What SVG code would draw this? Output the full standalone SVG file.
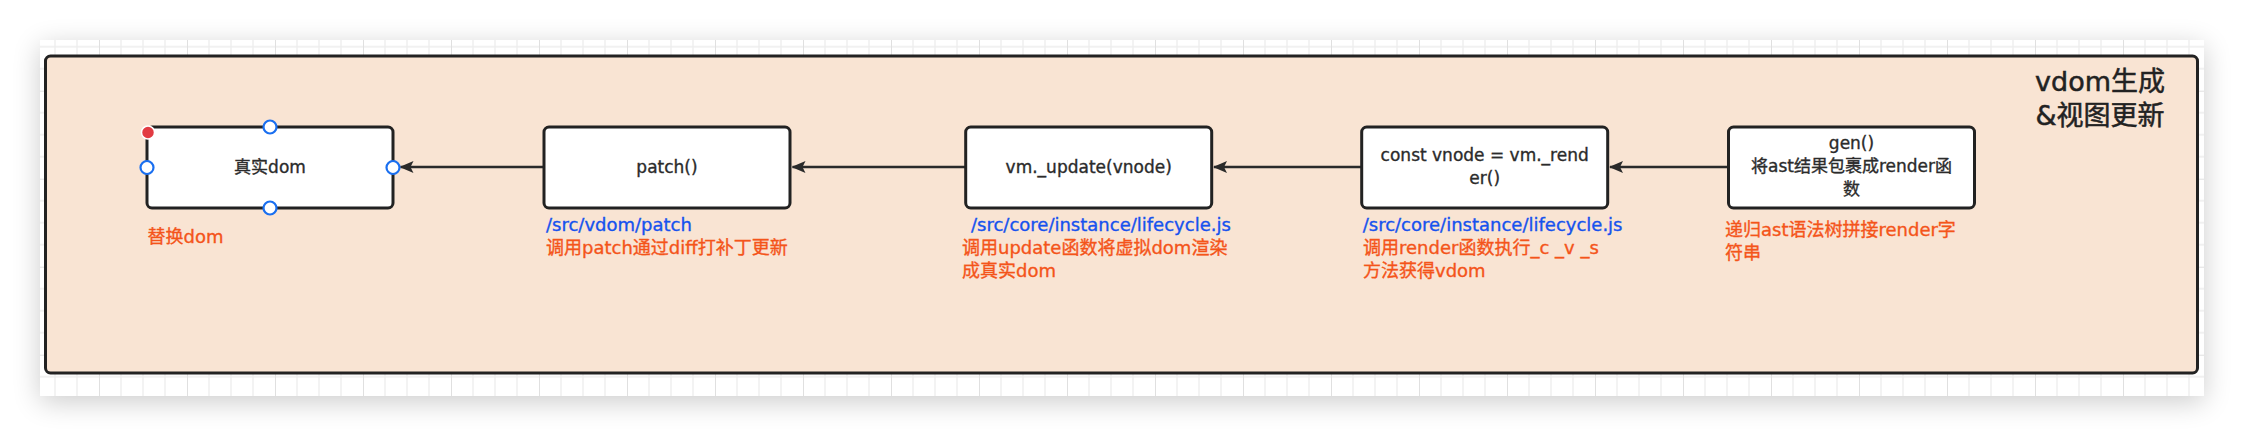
<svg xmlns="http://www.w3.org/2000/svg" width="2244" height="436" viewBox="0 0 2244 436">
  <defs>
    <style>
      .txt { font-family: "DejaVu Sans", "Noto Sans CJK SC", sans-serif; stroke-width: 0.35; }
      .node-box { fill: #ffffff; stroke: #222222; stroke-width: 3; }
      .node-label { font-size: 17px; fill: #2b2b2b; stroke: #2b2b2b; text-anchor: middle; }
      .path-note { font-size: 18px; fill: #1652ee; stroke: #1652ee; }
      .desc-note { font-size: 18px; fill: #f4541a; stroke: #f4541a; }
      .title { font-size: 27px; fill: #222222; stroke: #222222; stroke-width: 0.5; text-anchor: middle; }
      .edge { fill: none; stroke: #2a2a2a; stroke-width: 2.4; }
      .port { fill: #ffffff; stroke: #1a6ff0; stroke-width: 2.2; }
    </style>
    <filter id="shadow" x="-10%" y="-40%" width="120%" height="180%">
      <feGaussianBlur stdDeviation="14"/>
    </filter>
    <pattern id="grid" patternUnits="userSpaceOnUse" x="11" y="2.7" width="88" height="88">
      <rect width="88" height="88" fill="#ffffff"/>
      <path d="M22,0 V88 M44,0 V88 M66,0 V88 M0,22 H88 M0,44 H88 M0,66 H88" stroke="#ededed" stroke-width="1.3"/>
      <path d="M0,0 V88 M0,0 H88" stroke="#e0e0e0" stroke-width="2"/>
    </pattern>
    <marker id="arrow" viewBox="0 0 14 12" refX="13" refY="6" markerWidth="14" markerHeight="12" markerUnits="userSpaceOnUse" orient="auto">
      <path d="M0,0 L14,6 L0,12 L3,6 z" fill="#2a2a2a"/>
    </marker>
  </defs>

  <rect width="2244" height="436" fill="#ffffff"/>
  <rect x="40" y="46" width="2164" height="356" fill="#000000" opacity="0.2" filter="url(#shadow)"/>
  <rect x="40" y="40" width="2164" height="356" fill="url(#grid)"/>

  <g id="container">
    <rect x="45.5" y="56" width="2152" height="317" rx="5" fill="#f9e4d3" stroke="#222222" stroke-width="3"/>
    <text class="txt title" x="2100" y="91">vdom生成</text>
    <text class="txt title" x="2100" y="125">&amp;视图更新</text>
  </g>

  <g id="connectors">
    <path class="edge" d="M1728.5,167 H1610" marker-end="url(#arrow)"/>
    <path class="edge" d="M1361.7,167 H1214" marker-end="url(#arrow)"/>
    <path class="edge" d="M965.7,167 H792.5" marker-end="url(#arrow)"/>
    <path class="edge" d="M544,167 H400.5" marker-end="url(#arrow)"/>
  </g>

  <g id="node-real-dom">
    <rect class="node-box" x="147" y="127" width="246" height="81" rx="5"/>
    <text class="txt node-label" x="270" y="173">真实dom</text>
    <text class="txt desc-note" x="147.5" y="242.5">替换dom</text>
    <circle class="port" cx="270" cy="127" r="6.5"/>
    <circle class="port" cx="270" cy="208" r="6.5"/>
    <circle class="port" cx="147" cy="167.5" r="6.5"/>
    <circle class="port" cx="393" cy="167.5" r="6.5"/>
    <circle cx="148" cy="132.5" r="6.5" fill="#e23b42" stroke="#ffffff" stroke-width="1.5"/>
  </g>

  <g id="node-patch">
    <rect class="node-box" x="544" y="127" width="246" height="81" rx="5"/>
    <text class="txt node-label" x="667" y="173">patch()</text>
    <text class="txt path-note" x="546" y="231">/src/vdom/patch</text>
    <text class="txt desc-note" x="546" y="254">调用patch通过diff打补丁更新</text>
  </g>

  <g id="node-update">
    <rect class="node-box" x="965.7" y="127" width="246" height="81" rx="5"/>
    <text class="txt node-label" x="1088.7" y="173">vm._update(vnode)</text>
    <text class="txt path-note" x="971" y="231">/src/core/instance/lifecycle.js</text>
    <text class="txt desc-note" x="962" y="254">调用update函数将虚拟dom渲染</text>
    <text class="txt desc-note" x="962" y="277">成真实dom</text>
  </g>

  <g id="node-render">
    <rect class="node-box" x="1361.7" y="127" width="246" height="81" rx="5"/>
    <text class="txt node-label" x="1484.7" y="161">const vnode = vm._rend</text>
    <text class="txt node-label" x="1484.7" y="184">er()</text>
    <text class="txt path-note" x="1362.7" y="231">/src/core/instance/lifecycle.js</text>
    <text class="txt desc-note" x="1363" y="254">调用render函数执行_c _v _s</text>
    <text class="txt desc-note" x="1363" y="277">方法获得vdom</text>
  </g>

  <g id="node-gen">
    <rect class="node-box" x="1728.5" y="127" width="246" height="81" rx="5"/>
    <text class="txt node-label" x="1851.5" y="149">gen()</text>
    <text class="txt node-label" x="1851.5" y="172">将ast结果包裹成render函</text>
    <text class="txt node-label" x="1851.5" y="195">数</text>
    <text class="txt desc-note" x="1725" y="236">递归ast语法树拼接render字</text>
    <text class="txt desc-note" x="1725" y="259">符串</text>
  </g>
</svg>
